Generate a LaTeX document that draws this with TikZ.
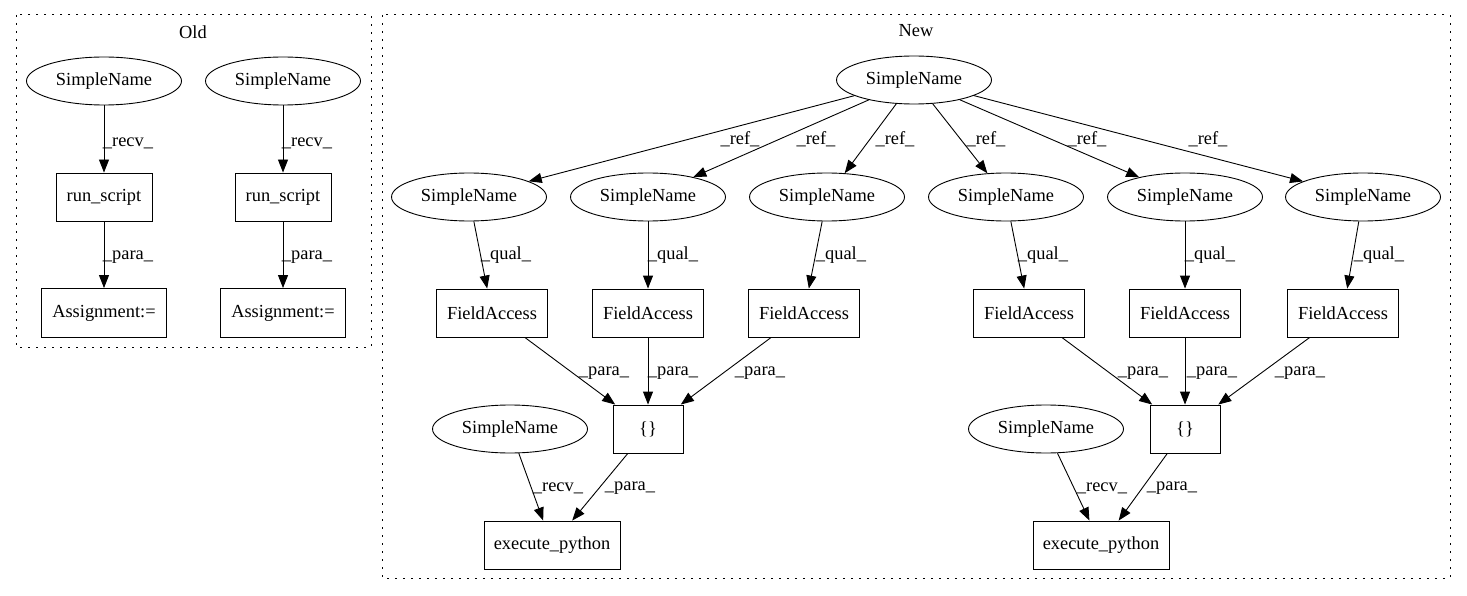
\documentclass[tikz,border=0pt]{standalone}
\usepackage{fontspec}
\setmainfont{Liberation Serif}
\usetikzlibrary{arrows.meta,shapes.geometric}
\begin{document}
\begin{tikzpicture}[x=1pt,y=-1pt,
  every node/.style={font=\fontsize{18.4}{20}\selectfont},
  sn/.style={draw,ellipse,minimum width=155pt,minimum height=48pt,inner sep=0pt,line width=0.9pt},
  bx/.style={draw,rectangle,minimum height=48pt,inner sep=0pt,line width=0.9pt},
  ed/.style={-{Triangle[length=13pt,width=10pt]},line width=0.9pt},
  lbl/.style={inner sep=0pt},
  clu/.style={draw,line width=1pt,dash pattern=on 2pt off 6pt}]
\useasboundingbox (0,0) rectangle (1467,596);
% clusters
\draw[clu] (16,15) rectangle (371,347);
\draw[clu] (382,15) rectangle (1450,578);
\node[lbl] (oldlbl) at (193,32) {Old};
\node[lbl] (newlbl) at (916,31) {New};
% Old
\node[sn] (os1) at (104,81) {SimpleName};
\node[sn] (os2) at (283,81) {SimpleName};
\node[bx,minimum width=96pt] (rs1) at (104,197) {run\_script};
\node[bx,minimum width=96pt] (rs2) at (283,197) {run\_script};
\node[bx,minimum width=125pt,minimum height=49pt] (as1) at (104,313) {Assignment:=};
\node[bx,minimum width=125pt,minimum height=49pt] (as2) at (283,313) {Assignment:=};
\draw[ed] (os1) -- (rs1);
\draw[ed] (os2) -- (rs2);
\draw[ed] (rs1) -- (as1);
\draw[ed] (rs2) -- (as2);
\node[lbl] (lo1) at (128,143) {\_recv\_};
\node[lbl] (lo2) at (307,143) {\_recv\_};
\node[lbl] (lo3) at (128,257) {\_para\_};
\node[lbl] (lo4) at (307,257) {\_para\_};
% New
\node[sn] (top) at (914,80) {SimpleName};
\node[sn] (s1) at (469,197) {SimpleName};
\node[sn] (s2) at (648,197) {SimpleName};
\node[sn] (s3) at (827,197) {SimpleName};
\node[sn] (s4) at (1006,197) {SimpleName};
\node[sn] (s5) at (1185,197) {SimpleName};
\node[sn] (s6) at (1363,197) {SimpleName};
\node[bx,minimum width=111pt] (f1) at (492,313) {FieldAccess};
\node[bx,minimum width=111pt] (f2) at (648,313) {FieldAccess};
\node[bx,minimum width=111pt] (f3) at (804,313) {FieldAccess};
\node[bx,minimum width=111pt] (f4) at (1029,313) {FieldAccess};
\node[bx,minimum width=111pt] (f5) at (1185,313) {FieldAccess};
\node[bx,minimum width=111pt] (f6) at (1343,313) {FieldAccess};
\node[bx,minimum width=70pt] (b1) at (648,429) {\{\}};
\node[bx,minimum width=70pt] (b2) at (1185,429) {\{\}};
\node[sn] (r1) at (510,429) {SimpleName};
\node[sn] (r2) at (1046,429) {SimpleName};
\node[bx,minimum width=136pt] (e1) at (552,545) {execute\_python};
\node[bx,minimum width=136pt] (e2) at (1101,545) {execute\_python};
\foreach \s in {s1,s2,s3,s4,s5,s6} \draw[ed] (top) -- (\s);
\draw[ed] (s1) -- (f1);
\draw[ed] (s2) -- (f2);
\draw[ed] (s3) -- (f3);
\draw[ed] (s4) -- (f4);
\draw[ed] (s5) -- (f5);
\draw[ed] (s6) -- (f6);
\draw[ed] (f1) -- (b1);
\draw[ed] (f2) -- (b1);
\draw[ed] (f3) -- (b1);
\draw[ed] (f4) -- (b2);
\draw[ed] (f5) -- (b2);
\draw[ed] (f6) -- (b2);
\draw[ed] (r1) -- (e1);
\draw[ed] (b1) -- (e1);
\draw[ed] (r2) -- (e2);
\draw[ed] (b2) -- (e2);
% labels
\node[lbl] (lr1) at (740,139) {\_ref\_};
\node[lbl] (lr2) at (816,139) {\_ref\_};
\node[lbl] (lr3) at (895,139) {\_ref\_};
\node[lbl] (lr4) at (986,139) {\_ref\_};
\node[lbl] (lr5) at (1087,139) {\_ref\_};
\node[lbl] (lr6) at (1208,139) {\_ref\_};
\node[lbl] (lq1) at (506,255) {\_qual\_};
\node[lbl] (lq2) at (673,255) {\_qual\_};
\node[lbl] (lq3) at (841,255) {\_qual\_};
\node[lbl] (lq4) at (1043,255) {\_qual\_};
\node[lbl] (lq5) at (1210,255) {\_qual\_};
\node[lbl] (lq6) at (1379,255) {\_qual\_};
\node[lbl] (lp1) at (604,373) {\_para\_};
\node[lbl] (lp2) at (673,373) {\_para\_};
\node[lbl] (lp3) at (760,373) {\_para\_};
\node[lbl] (lp4) at (1143,373) {\_para\_};
\node[lbl] (lp5) at (1212,373) {\_para\_};
\node[lbl] (lp6) at (1300,373) {\_para\_};
\node[lbl] (lv1) at (558,488) {\_recv\_};
\node[lbl] (lx1) at (630,488) {\_para\_};
\node[lbl] (lv2) at (1102,488) {\_recv\_};
\node[lbl] (lx2) at (1172,488) {\_para\_};
\end{tikzpicture}
\end{document}
